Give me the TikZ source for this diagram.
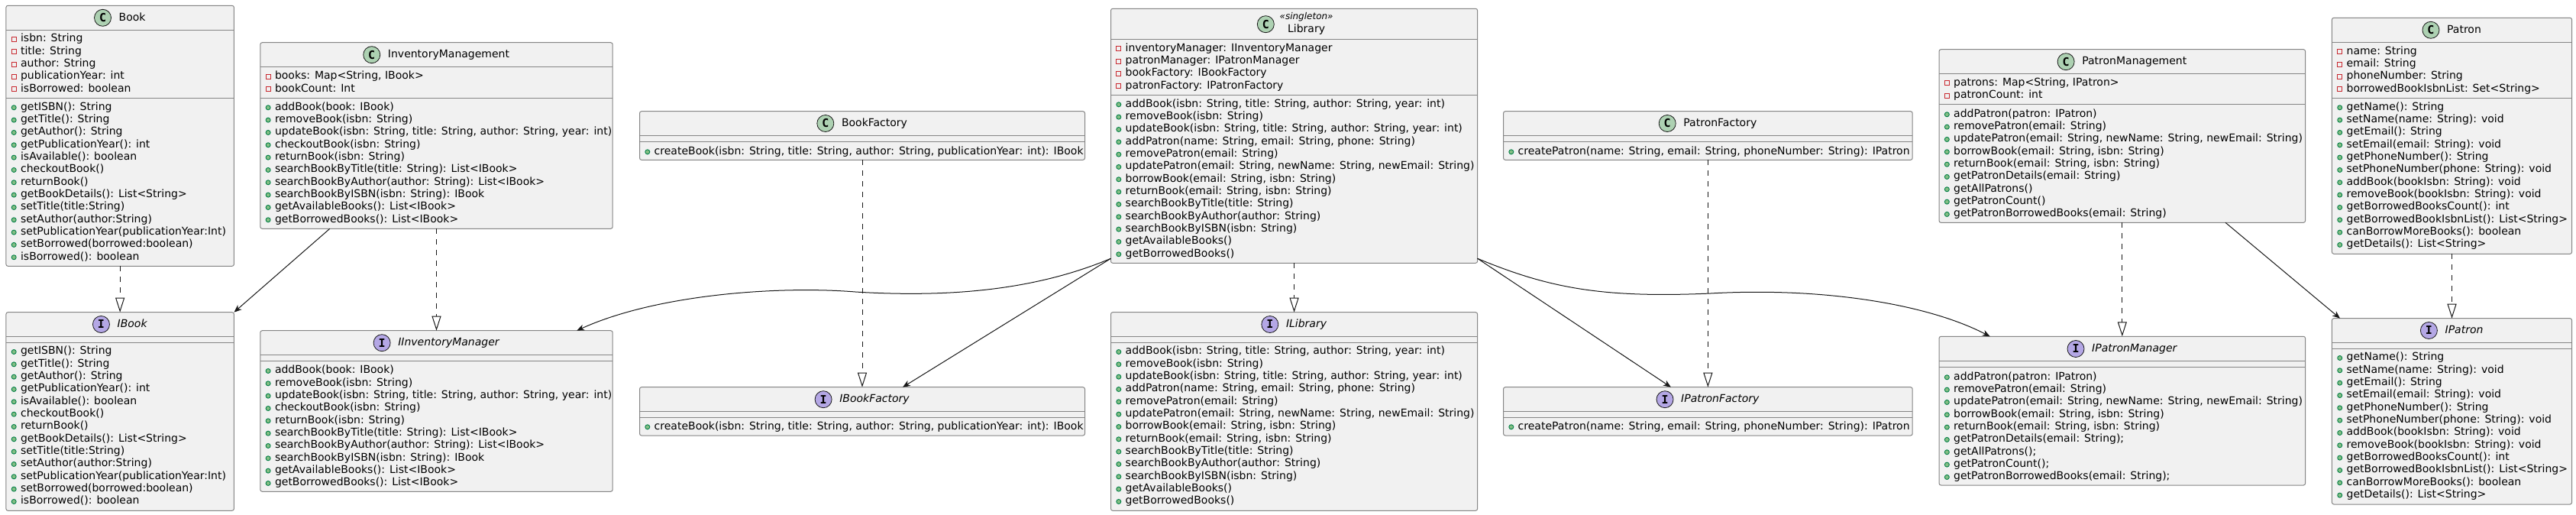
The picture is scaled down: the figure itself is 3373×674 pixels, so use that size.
\documentclass[tikz,border=0pt]{standalone}
\usepackage{fontspec}
\setmainfont{DejaVu Sans}
\newfontfamily\iconfont{DejaVu Sans Mono}
\usetikzlibrary{arrows.meta,fit,calc}
\definecolor{boxfill}{HTML}{F1F1F1}
\definecolor{ink}{HTML}{181818}
\definecolor{boxline}{HTML}{858585}
\definecolor{cgreen}{HTML}{ADD1B2}
\definecolor{ipurple}{HTML}{B4A7E5}
\definecolor{privred}{HTML}{C82930}
\definecolor{pubfill}{HTML}{84BE84}
\definecolor{publine}{HTML}{038048}
\tikzset{
 umlbox/.style={draw=boxline, fill=boxfill, line width=1pt, rounded corners=2.5pt, inner sep=0pt, outer sep=0pt},
 sepline/.style={draw=boxline, line width=1pt},
 member/.style={anchor=west, inner sep=0pt, font=\fontsize{14}{16}\selectfont, text=black, text height=10.5pt, text depth=2.8pt},
 titletext/.style={inner sep=0pt, font=\fontsize{14}{16}\selectfont, text=black, text height=10.5pt, text depth=2.8pt},
 stereotext/.style={inner sep=0pt, font=\fontsize{12}{14}\selectfont\itshape, text=black, text height=9pt, text depth=2.5pt},
 cicon/.style={circle, draw=ink, line width=0.8pt, fill=cgreen, minimum size=22pt, inner sep=0pt, font=\iconfont\bfseries\fontsize{15}{15}\selectfont},
 iicon/.style={cicon, fill=ipurple},
 priv/.style={rectangle, draw=privred, line width=0.9pt, minimum size=6pt, inner sep=0pt},
 pub/.style={circle, draw=publine, fill=pubfill, line width=0.9pt, minimum size=6pt, inner sep=0pt},
 assoc/.style={draw=ink, line width=1pt, -{Stealth[length=10pt, width=8pt, inset=3pt]}},
 realize/.style={draw=ink, line width=1pt, dash pattern=on 7pt off 7pt, -{Triangle[length=19pt, width=12pt, fill=white]}},
}
\newcommand\classbox[5]{\node[umlbox, fit={(#2,#3) (#4,#5)}] (#1) {};}
\newcommand\sepat[3]{\draw[sepline] (#1,#3) -- (#2,#3);}
\newcommand\umltitle[6]{%
  \node[titletext] (#1tt) at (#2+16,#3) {#6};
  \node[#5] (#1ic) at ([xshift=-21pt]#1tt.west) {#4};}
\newcommand\umlrows[5]{%
  \foreach \txt [count=\k from 0] in {#5} {%
    \node[#4] (#1mk\k) at (#2+10.3, #3+\k*16.33+0.5) {};
    \node[member] (#1tx\k) at (#2+19, #3+\k*16.33) {\txt};
  }}
\begin{document}
\begin{tikzpicture}[x=1pt, y=-1pt]
\fill[white] (0,0) rectangle (3373,674);
\useasboundingbox (0,0) rectangle (3373,674);

% ---------- Book
\classbox{book}{7.9}{7.3}{306.4}{348.3}
\sepat{7.9}{306.4}{39.3}
\sepat{7.9}{306.4}{128.3}
\umltitle{book}{157.15}{23.3}{C}{cicon}{Book}
\umlrows{bka}{7.9}{51}{priv}{{isbn: String},{title: String},{author: String},{publicationYear: int},{isBorrowed: boolean}}
\umlrows{bkm}{7.9}{140.3}{pub}{{getISBN(): String},{getTitle(): String},{getAuthor(): String},{getPublicationYear(): int},{isAvailable(): boolean},{checkoutBook()},{returnBook()},{getBookDetails(): List<String>},{setTitle(title:String)},{setAuthor(author:String)},{setPublicationYear(publicationYear:Int)},{setBorrowed(borrowed:boolean)},{isBorrowed(): boolean}}

% ---------- IBook
\classbox{ibook}{7.9}{408.7}{306.4}{668.3}
\sepat{7.9}{306.4}{440.3}
\sepat{7.9}{306.4}{448.3}
\umltitle{ibook}{157.15}{424.5}{I}{iicon}{\itshape IBook}
\umlrows{ibkm}{7.9}{460}{pub}{{getISBN(): String},{getTitle(): String},{getAuthor(): String},{getPublicationYear(): int},{isAvailable(): boolean},{checkoutBook()},{returnBook()},{getBookDetails(): List<String>},{setTitle(title:String)},{setAuthor(author:String)},{setPublicationYear(publicationYear:Int)},{setBorrowed(borrowed:boolean)},{isBorrowed(): boolean}}

% ---------- InventoryManagement
\classbox{invmgmt}{340.8}{55.7}{802.2}{299.3}
\sepat{340.8}{802.2}{87.7}
\sepat{340.8}{802.2}{128.3}
\umltitle{invmgmt}{571.5}{71.7}{C}{cicon}{InventoryManagement}
\umlrows{ima}{340.8}{100}{priv}{{books: Map<String, IBook>},{bookCount: Int}}
\umlrows{imm}{340.8}{140.3}{pub}{{addBook(book: IBook)},{removeBook(isbn: String)},{updateBook(isbn: String, title: String, author: String, year: int)},{checkoutBook(isbn: String)},{returnBook(isbn: String)},{searchBookByTitle(title: String): List<IBook>},{searchBookByAuthor(author: String): List<IBook>},{searchBookByISBN(isbn: String): IBook},{getAvailableBooks(): List<IBook>},{getBorrowedBooks(): List<IBook>}}

% ---------- IInventoryManager
\classbox{iinvmgr}{340.8}{432.7}{802.2}{643.3}
\sepat{340.8}{802.2}{464.7}
\sepat{340.8}{802.2}{472.7}
\umltitle{iinvmgr}{571.5}{448.7}{I}{iicon}{\itshape IInventoryManager}
\umlrows{iimm}{340.8}{485}{pub}{{addBook(book: IBook)},{removeBook(isbn: String)},{updateBook(isbn: String, title: String, author: String, year: int)},{checkoutBook(isbn: String)},{returnBook(isbn: String)},{searchBookByTitle(title: String): List<IBook>},{searchBookByAuthor(author: String): List<IBook>},{searchBookByISBN(isbn: String): IBook},{getAvailableBooks(): List<IBook>},{getBorrowedBooks(): List<IBook>}}

% ---------- BookFactory
\classbox{bookfac}{837.5}{145.7}{1420.5}{209.3}
\sepat{837.5}{1420.5}{177.3}
\sepat{837.5}{1420.5}{185.3}
\umltitle{bookfac}{1129}{161.5}{C}{cicon}{BookFactory}
\umlrows{bfm}{837.5}{198.3}{pub}{{createBook(isbn: String, title: String, author: String, publicationYear: int): IBook}}

% ---------- IBookFactory
\classbox{ibookfac}{837.5}{506.7}{1420.5}{570}
\sepat{837.5}{1420.5}{538.7}
\sepat{837.5}{1420.5}{546.7}
\umltitle{ibookfac}{1129}{522.7}{I}{iicon}{\itshape IBookFactory}
\umlrows{ibfm}{837.5}{558.3}{pub}{{createBook(isbn: String, title: String, author: String, publicationYear: int): IBook}}

% ---------- Library
\classbox{library}{1454.5}{11.3}{1934.6}{344.3}
\sepat{1454.5}{1934.6}{51.7}
\sepat{1454.5}{1934.6}{124.3}
\node[stereotext] (libst) at (1710.6,22.7) {«singleton»};
\node[titletext] (libtt) at (1710.6,38.3) {Library};
\node[cicon] (libic) at (1657.3,31.7) {C};
\umlrows{lba}{1454.5}{63.3}{priv}{{inventoryManager: IInventoryManager},{patronManager: IPatronManager},{bookFactory: IBookFactory},{patronFactory: IPatronFactory}}
\umlrows{lbm}{1454.5}{136.3}{pub}{{addBook(isbn: String, title: String, author: String, year: int)},{removeBook(isbn: String)},{updateBook(isbn: String, title: String, author: String, year: int)},{addPatron(name: String, email: String, phone: String)},{removePatron(email: String)},{updatePatron(email: String, newName: String, newEmail: String)},{borrowBook(email: String, isbn: String)},{returnBook(email: String, isbn: String)},{searchBookByTitle(title: String)},{searchBookByAuthor(author: String)},{searchBookByISBN(isbn: String)},{getAvailableBooks()},{getBorrowedBooks()}}

% ---------- ILibrary
\classbox{ilibrary}{1454.5}{408.7}{1934.6}{668.3}
\sepat{1454.5}{1934.6}{440.3}
\sepat{1454.5}{1934.6}{448.3}
\umltitle{ilibrary}{1694.55}{424.5}{I}{iicon}{\itshape ILibrary}
\umlrows{ilbm}{1454.5}{460}{pub}{{addBook(isbn: String, title: String, author: String, year: int)},{removeBook(isbn: String)},{updateBook(isbn: String, title: String, author: String, year: int)},{addPatron(name: String, email: String, phone: String)},{removePatron(email: String)},{updatePatron(email: String, newName: String, newEmail: String)},{borrowBook(email: String, isbn: String)},{returnBook(email: String, isbn: String)},{searchBookByTitle(title: String)},{searchBookByAuthor(author: String)},{searchBookByISBN(isbn: String)},{getAvailableBooks()},{getBorrowedBooks()}}

% ---------- PatronFactory
\classbox{patfac}{1968.5}{145.7}{2504.2}{209.3}
\sepat{1968.5}{2504.2}{177.3}
\sepat{1968.5}{2504.2}{185.3}
\umltitle{patfac}{2236.35}{161.5}{C}{cicon}{PatronFactory}
\umlrows{pfm}{1968.5}{198.3}{pub}{{createPatron(name: String, email: String, phoneNumber: String): IPatron}}

% ---------- IPatronFactory
\classbox{ipatfac}{1968.5}{506.7}{2504.2}{570}
\sepat{1968.5}{2504.2}{538.7}
\sepat{1968.5}{2504.2}{546.7}
\umltitle{ipatfac}{2236.35}{522.7}{I}{iicon}{\itshape IPatronFactory}
\umlrows{ipfm}{1968.5}{558.3}{pub}{{createPatron(name: String, email: String, phoneNumber: String): IPatron}}

% ---------- PatronManagement
\classbox{patmgmt}{2539}{64.7}{3018.6}{291.3}
\sepat{2539}{3018.6}{96.7}
\sepat{2539}{3018.6}{136.7}
\umltitle{patmgmt}{2778.8}{80.7}{C}{cicon}{PatronManagement}
\umlrows{pma}{2539}{108.3}{priv}{{patrons: Map<String, IPatron>},{patronCount: int}}
\umlrows{pmm}{2539}{149.3}{pub}{{addPatron(patron: IPatron)},{removePatron(email: String)},{updatePatron(email: String, newName: String, newEmail: String)},{borrowBook(email: String, isbn: String)},{returnBook(email: String, isbn: String)},{getPatronDetails(email: String)},{getAllPatrons()},{getPatronCount()},{getPatronBorrowedBooks(email: String)}}

% ---------- IPatronManager
\classbox{ipatmgr}{2539}{440.3}{3018.6}{635}
\sepat{2539}{3018.6}{472.7}
\sepat{2539}{3018.6}{480.7}
\umltitle{ipatmgr}{2778.8}{456.5}{I}{iicon}{\itshape IPatronManager}
\umlrows{ipmm}{2539}{493.3}{pub}{{addPatron(patron: IPatron)},{removePatron(email: String)},{updatePatron(email: String, newName: String, newEmail: String)},{borrowBook(email: String, isbn: String)},{returnBook(email: String, isbn: String)},{getPatronDetails(email: String);},{getAllPatrons();},{getPatronCount();},{getPatronBorrowedBooks(email: String);}}

% ---------- Patron
\classbox{patron}{3053.4}{23.3}{3367.6}{332.3}
\sepat{3053.4}{3367.6}{55.3}
\sepat{3053.4}{3367.6}{128.3}
\umltitle{patron}{3210.5}{39.3}{C}{cicon}{Patron}
\umlrows{pta}{3053.4}{67.3}{priv}{{name: String},{email: String},{phoneNumber: String},{borrowedBookIsbnList: Set<String>}}
\umlrows{ptm}{3053.4}{140.3}{pub}{{getName(): String},{setName(name: String): void},{getEmail(): String},{setEmail(email: String): void},{getPhoneNumber(): String},{setPhoneNumber(phone: String): void},{addBook(bookIsbn: String): void},{removeBook(bookIsbn: String): void},{getBorrowedBooksCount(): int},{getBorrowedBookIsbnList(): List<String>},{canBorrowMoreBooks(): boolean},{getDetails(): List<String>}}

% ---------- IPatron
\classbox{ipatron}{3053.4}{416.7}{3367.6}{660}
\sepat{3053.4}{3367.6}{448.3}
\sepat{3053.4}{3367.6}{456.3}
\umltitle{ipatron}{3210.5}{432.5}{I}{iicon}{\itshape IPatron}
\umlrows{iptm}{3053.4}{468}{pub}{{getName(): String},{setName(name: String): void},{getEmail(): String},{setEmail(email: String): void},{getPhoneNumber(): String},{setPhoneNumber(phone: String): void},{addBook(bookIsbn: String): void},{removeBook(bookIsbn: String): void},{getBorrowedBooksCount(): int},{getBorrowedBookIsbnList(): List<String>},{canBorrowMoreBooks(): boolean},{getDetails(): List<String>}}

% ---------- connectors
\coordinate (wl) at (1120,382);
\coordinate (wr) at (2240,384);
\draw[realize] (book.south) -- (ibook.north);
\draw[assoc] ([xshift=91pt]invmgmt.south west) -- (ibook.north east);
\draw[realize] (invmgmt.south) -- (iinvmgr.north);
\draw[realize] (bookfac.south) -- (ibookfac.north);
\draw[realize] (library.south) -- (ilibrary.north);
\draw[assoc] ([yshift=6pt]library.south west) .. controls (1360,378) and (1250,390) .. (wl) .. controls (1020,374) and (860,385) .. ([xshift=-47pt]iinvmgr.north east);
\draw[assoc] ([yshift=6pt]library.south west) -- ([xshift=53pt]ibookfac.north);
\draw[assoc] ([yshift=6pt]library.south east) -- ([xshift=-48.4pt]ipatfac.north);
\draw[assoc] ([yshift=6pt]library.south east) .. controls (2030,378) and (2100,390) .. (wr) .. controls (2380,376) and (2520,396) .. ([xshift=66.7pt]ipatmgr.north west);
\draw[realize] (patfac.south) -- (ipatfac.north);
\draw[realize] (patmgmt.south) -- (ipatmgr.north);
\draw[assoc] ([xshift=375pt]patmgmt.south west) -- ([xshift=10.6pt]ipatron.north west);
\draw[realize] (patron.south) -- (ipatron.north);
\end{tikzpicture}
\end{document}
